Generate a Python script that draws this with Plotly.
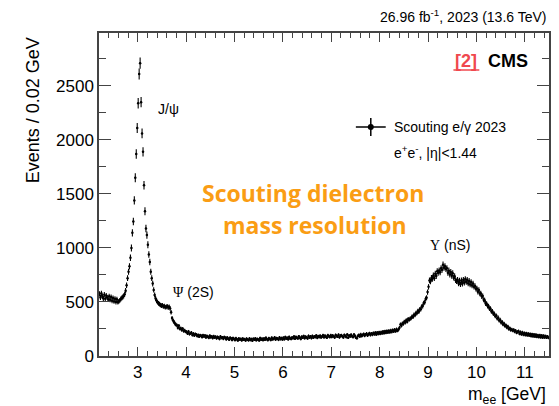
import numpy as np
import plotly.graph_objects as go

# ---- data: events per 0.02 GeV bin, bin centres 2.21 ... 11.49 GeV ----
bin_lo = 2.2
bin_width = 0.02
counts = [
    575, 542, 580, 551, 533, 568, 530, 559, 541, 522,
    552, 520, 546, 512, 538, 505, 531, 500, 525, 498,
    506, 515, 528, 536, 545, 555, 572, 605, 655, 720,
    780, 830, 910, 1000, 1140, 1245, 1440, 1650, 1870, 2110,
    2340, 2610, 2710, 2350, 2060, 1890, 1580, 1340, 1180, 1120,
    1030, 940, 870, 780, 720, 670, 612, 565, 532, 512,
    498, 487, 480, 472, 466, 470, 458, 462, 452, 455,
    460, 448, 456, 440, 405, 352, 330, 315, 300, 290,
    285, 262, 279, 252, 256, 240, 252, 231, 236, 226,
    224, 208, 226, 203, 211, 216, 194, 207, 190, 204,
    198, 184, 195, 179, 192, 188, 175, 193, 181, 190,
    172, 186, 178, 169, 188, 174, 180, 166, 183, 171,
    179, 164, 176, 170, 158, 181, 167, 173, 159, 175,
    168, 154, 171, 160, 150, 169, 163, 149, 166, 158,
    147, 165, 155, 144, 163, 152, 158, 145, 161, 150,
    156, 143, 160, 151, 146, 162, 148, 157, 141, 159,
    150, 163, 146, 158, 152, 144, 166, 151, 160, 147,
    162, 150, 168, 155, 147, 165, 158, 149, 170, 154,
    159, 171, 152, 165, 160, 150, 172, 157, 166, 153,
    170, 156, 175, 161, 168, 154, 177, 163, 158, 172,
    165, 180, 160, 176, 168, 162, 182, 170, 158, 178,
    170, 184, 165, 179, 173, 162, 186, 171, 181, 166,
    186, 170, 181, 176, 190, 168, 183, 175, 188, 172,
    180, 192, 174, 187, 178, 170, 191, 182, 176, 193,
    177, 190, 182, 171, 194, 185, 179, 196, 173, 188,
    193, 180, 172, 195, 186, 176, 198, 170, 190, 181,
    196, 182, 175, 199, 186, 170, 165, 185, 195, 180,
    200, 186, 194, 204, 188, 199, 207, 190, 202, 210,
    194, 208, 198, 213, 202, 216, 200, 217, 205, 220,
    206, 221, 210, 226, 212, 228, 215, 231, 218, 233,
    220, 236, 224, 240, 227, 244, 230, 248, 234, 246,
    262, 292, 280, 302, 298, 318, 310, 332, 318, 342,
    335, 346, 350, 366, 362, 382, 378, 398, 396, 418,
    410, 432, 432, 458, 462, 490, 496, 528, 540, 592,
    640, 700, 690, 722, 715, 745, 720, 762, 740, 785,
    770, 792, 775, 812, 798, 845, 818, 830, 805, 812,
    770, 790, 755, 778, 742, 765, 725, 738, 702, 692,
    705, 672, 698, 665, 700, 670, 705, 678, 712, 685,
    705, 672, 695, 662, 684, 652, 670, 640, 648, 622,
    625, 594, 612, 578, 580, 552, 556, 520, 516, 486,
    485, 462, 462, 438, 440, 412, 415, 390, 392, 368,
    375, 348, 355, 328, 335, 310, 316, 292, 300, 278,
    284, 264, 272, 250, 258, 240, 246, 236, 242, 226,
    234, 216, 224, 230, 206, 222, 202, 218, 198, 212,
    195, 210, 192, 207, 189, 204, 186, 201, 183, 198,
    181, 196, 178, 193, 175, 191, 173, 189, 171, 187,
    172, 184, 170, 180, 168,
]
x_ticks = [3, 4, 5, 6, 7, 8, 9, 10, 11]
y_ticks = [0, 500, 1000, 1500, 2000, 2500]

counts = np.array(counts, dtype=float)
centres = bin_lo + bin_width * (np.arange(len(counts)) + 0.5)
errors = np.sqrt(counts)  # Poisson uncertainty per bin

W, H = 559, 406
L, R, T, B = 99, 8, 33, 50
PW, PH = W - L - R, H - T - B


def px(xp):
    return (xp - L) / PW


def py(yp):
    return (H - B - yp) / PH


AX = "#444444"
SANS = "Liberation Sans, Arial, sans-serif"

fig = go.Figure()
fig.add_trace(go.Scatter(
    x=centres, y=counts, mode="markers",
    marker=dict(color="black", size=2.5),
    error_y=dict(type="data", array=errors, color="black", thickness=1.1, width=0),
    error_x=dict(type="constant", value=bin_width / 2, color="black", thickness=1, width=0),
    showlegend=False, hoverinfo="skip",
))

fig.update_layout(
    width=W, height=H,
    margin=dict(l=L, r=R, t=T, b=B),
    paper_bgcolor="white", plot_bgcolor="white",
    font=dict(family=SANS, color="black"),
    showlegend=False,
)
fig.update_xaxes(
    range=[2.2, 11.5], tickvals=x_ticks, ticks="inside", ticklen=9, tickwidth=1,
    tickcolor=AX, showline=True, linecolor=AX, linewidth=1.5, mirror="allticks",
    showgrid=False, zeroline=False, tickfont=dict(size=17, family=SANS),
    minor=dict(dtick=0.2, tick0=0, ticks="inside", ticklen=5, tickcolor=AX, showgrid=False),
)
fig.update_yaxes(
    range=[0, 2990], tickvals=y_ticks, ticks="inside", ticklen=12, tickwidth=1,
    tickcolor=AX, showline=True, linecolor=AX, linewidth=1.5, mirror="allticks",
    showgrid=False, zeroline=False, tickfont=dict(size=17, family=SANS),
    minor=dict(dtick=250, tick0=0, ticks="inside", ticklen=7, tickcolor=AX, showgrid=False),
)

ann = []


def text(s, xp, yp, size, xanchor="left", yanchor="middle", color="black", family=SANS, angle=0):
    ann.append(dict(text=s, x=px(xp), y=py(yp), xref="paper", yref="paper",
                    xanchor=xanchor, yanchor=yanchor, showarrow=False, textangle=angle,
                    font=dict(size=size, color=color, family=family)))


text("26.96 fb<sup>-1</sup>, 2023 (13.6 TeV)", 550, 16, 14, xanchor="right")
text("<b>[2]</b>", 468, 61, 18, xanchor="center", color="#F0484E")
text("<b>CMS</b>", 532, 61, 18, xanchor="right")
text("Scouting e/\u03b3 2023", 393, 127, 14)
text("e<sup>+</sup>e<sup>-</sup>, |\u03b7|<1.44", 393, 152, 14)
text("J/\u03c8", 156, 109, 14)
text("<span style='font-family:Liberation Serif'>\u03a8</span> (2S)", 171, 292, 14)
text("<span style='font-family:Liberation Serif'>\u03a5</span> (nS)", 429, 245, 14)
text("<b>Scouting dielectron</b>", 314, 193, 23, xanchor="center", color="#FA9D14",
     family="Open Sans, Lato, sans-serif")
text("<b>mass resolution</b>", 316, 225, 23, xanchor="center", color="#FA9D14",
     family="Open Sans, Lato, sans-serif")
text("Events / 0.02 GeV", 33, 35, 18, xanchor="center", yanchor="top", angle=-90)
text("m<sub>ee</sub> [GeV]", 550, 382, 17.5, xanchor="right", yanchor="top")
fig.update_layout(annotations=ann)

# legend symbol (cross with dot) and underline of the reference tag
shapes = [
    dict(type="line", xref="paper", yref="paper", x0=px(357), x1=px(387), y0=py(127), y1=py(127),
         line=dict(color="black", width=1.5)),
    dict(type="line", xref="paper", yref="paper", x0=px(372), x1=px(372), y0=py(118), y1=py(136),
         line=dict(color="black", width=1.5)),
    dict(type="circle", xref="paper", yref="paper", x0=px(369), x1=px(375), y0=py(130), y1=py(124),
         fillcolor="black", line=dict(color="black", width=0)),
    dict(type="line", xref="paper", yref="paper", x0=px(455), x1=px(481), y0=py(70), y1=py(70),
         line=dict(color="#F0484E", width=1.5)),
]
fig.update_layout(shapes=shapes)

fig.write_html("out.html", config={"displayModeBar": False},
               post_script="document.body.style.margin='0';")
